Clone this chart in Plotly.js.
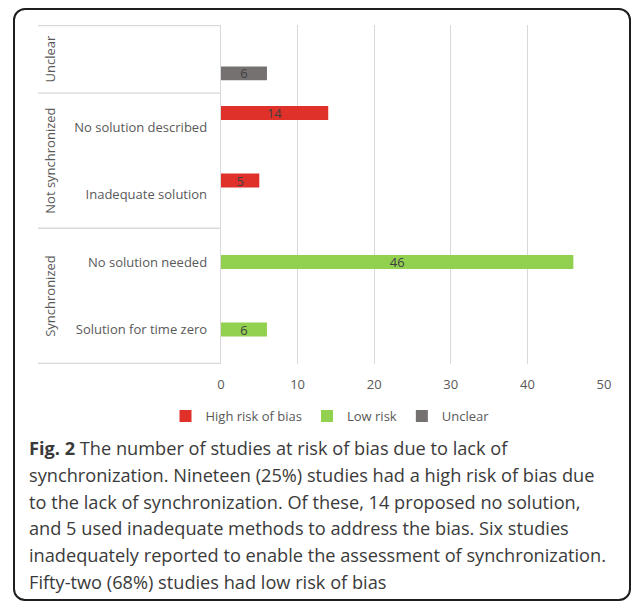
<!DOCTYPE html>
<html>
<head>
<meta charset="utf-8">
<script src="https://cdn.plot.ly/plotly-3.0.1.min.js"></script>
<style>
  html, body { margin: 0; padding: 0; background: #fff; }
  #wrap { position: relative; width: 634px; height: 603px; }
  #chart { position: absolute; left: 0; top: 0; width: 634px; height: 603px; }
  #frame { position: absolute; left: 13px; top: 8px; width: 614px; height: 589px;
           border: 2px solid #1e1e1e; border-radius: 12px; pointer-events: none; }
</style>
</head>
<body>
<div id="wrap"><div id="chart"></div><div id="frame"></div></div>
<script>
// ---- data ----
const categories = ['Unclear', 'No solution described', 'Inadequate solution', 'No solution needed', 'Solution for time zero'];
const tickLabels = ['', 'No solution described', 'Inadequate solution', 'No solution needed', 'Solution for time zero'];
const groupNames = ['Unclear', 'Not synchronized', 'Synchronized'];
const groupSizes = [1, 2, 2];
const seriesNames = ['High risk of bias', 'Low risk', 'Unclear'];
const highRisk = [null, 14, 5, null, null];
const lowRisk = [null, null, null, 46, 6];
const unclearRisk = [6, null, null, null, null];
const xTicks = [0, 10, 20, 30, 40, 50];
const captionLines = [
  '<b>Fig. 2</b> The number of studies at risk of bias due to lack of',
  'synchronization. Nineteen (25%) studies had a high risk of bias due',
  'to the lack of synchronization. Of these, 14 proposed no solution,',
  'and 5 used inadequate methods to address the bias. Six studies',
  'inadequately reported to enable the assessment of synchronization.',
  'Fifty-two (68%) studies had low risk of bias'
];

// ---- layout helpers ----
const W = 634, H = 603;
const M = {l: 221, r: 30, t: 25, b: 239};
const plotW = W - M.l - M.r, plotH = H - M.t - M.b;
const px2x = p => (p - M.l) / plotW;
const px2y = p => (H - M.b - p) / plotH;

const colors = ['#E0302A', '#92D050', '#767171'];
const seriesVals = [highRisk, lowRisk, unclearRisk];
const tickFont = {family: 'Open Sans, sans-serif', size: 13, color: '#595959'};

const traces = seriesVals.map((vals, i) => ({
  type: 'bar', orientation: 'h',
  name: seriesNames[i],
  x: vals, y: categories,
  marker: {color: colors[i]},
  text: vals.map(v => v == null ? '' : String(v)),
  textposition: 'inside', insidetextanchor: 'middle', textangle: 0,
  constraintext: 'none',
  textfont: {family: 'Open Sans, sans-serif', size: 13, color: '#404040'},
  hoverinfo: 'skip'
}));

// group dividers and labels
const shapes = [];
const annotations = [];
const lineColor = '#d9d9d9';
let idx = 0;
const boundaries = [-0.5];
groupNames.forEach((g, gi) => {
  const start = idx, end = idx + groupSizes[gi] - 1;
  annotations.push({
    text: g, xref: 'paper', yref: 'y', x: px2x(50), y: (start + end) / 2,
    textangle: -90, showarrow: false, xanchor: 'center', yanchor: 'middle',
    font: tickFont
  });
  idx += groupSizes[gi];
  boundaries.push(idx - 0.5);
});
boundaries.forEach(b => {
  shapes.push({type: 'line', xref: 'paper', yref: 'y', x0: px2x(38), x1: 0, y0: b, y1: b,
               line: {color: lineColor, width: 1.3}, layer: 'below'});
});

captionLines.forEach((t, i) => {
  annotations.push({
    text: t, xref: 'paper', yref: 'paper', x: px2x(27), y: px2y(448 + i * 26.8),
    xanchor: 'left', yanchor: 'middle', showarrow: false, align: 'left',
    font: {family: 'Open Sans, sans-serif', size: 18.2, color: '#3a3a3a'}
  });
});

const layout = {
  width: W, height: H,
  margin: M,
  paper_bgcolor: 'rgba(0,0,0,0)', plot_bgcolor: 'rgba(0,0,0,0)',
  barmode: 'group', bargap: 0.38, bargroupgap: 0,
  showlegend: true,
  legend: {orientation: 'h', x: px2x(330), xanchor: 'center', y: px2y(416), yanchor: 'middle',
           traceorder: 'normal', font: tickFont, itemwidth: 30},
  xaxis: {range: [0, 50], tickvals: xTicks, showgrid: true, gridcolor: lineColor, gridwidth: 1.3,
          zeroline: false, showline: false, ticks: '', tickfont: tickFont, ticklabelstandoff: 11,
          fixedrange: true},
  yaxis: {type: 'category', categoryorder: 'array', categoryarray: categories,
          tickvals: categories, ticktext: tickLabels, autorange: 'reversed',
          showgrid: false, zeroline: false, showline: true, linecolor: lineColor, linewidth: 1.3,
          ticks: '', tickfont: tickFont, ticklabelstandoff: 10, fixedrange: true},
  shapes: shapes,
  annotations: annotations
};

Plotly.newPlot('chart', traces, layout, {displayModeBar: false, staticPlot: true});
</script>
</body>
</html>
